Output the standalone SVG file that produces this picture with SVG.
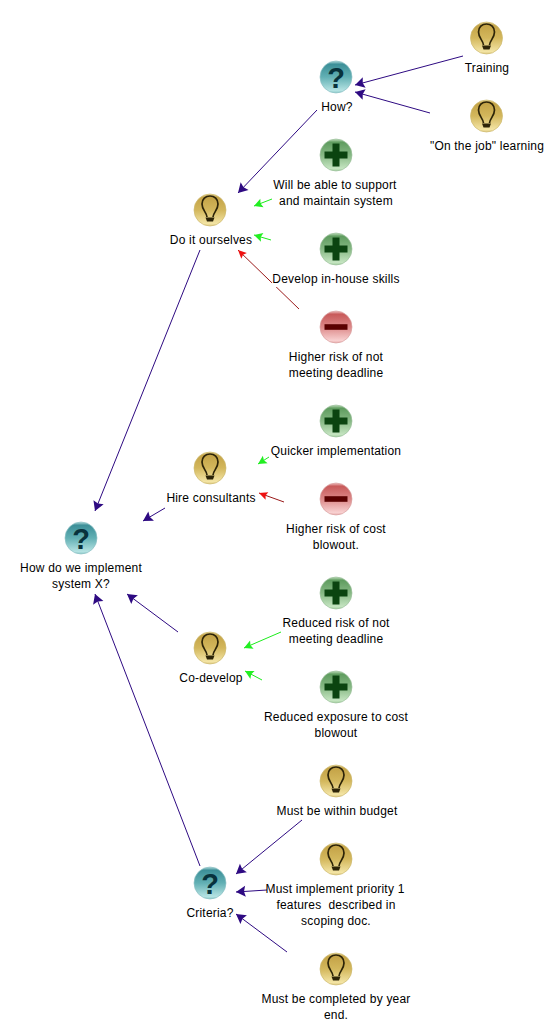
<svg xmlns="http://www.w3.org/2000/svg" width="546" height="1025" viewBox="0 0 546 1025">
<style>
text{font-family:"Liberation Sans",Arial,sans-serif;font-size:12px;letter-spacing:.2px;fill:#000;text-anchor:middle}
.l{fill:none;stroke-width:1}
.p{stroke:#2e0a82}.pf{fill:#2e0a82}
.g{stroke:#1cec1c}.gf{fill:#22ee22}
.r{stroke:#9a1a1a}.rf{fill:#ee1111}
.bg{fill:#fff}
</style>
<defs>
<linearGradient id="gb" x1="0" y1="0" x2="0" y2="1"><stop offset="0" stop-color="#eadca0"/><stop offset=".1" stop-color="#c4a347"/><stop offset=".5" stop-color="#d3b75c"/><stop offset=".92" stop-color="#f3e4a4"/><stop offset="1" stop-color="#e0cc84"/></linearGradient>
<linearGradient id="gq" x1="0" y1="0" x2="0" y2="1"><stop offset="0" stop-color="#b4dcdc"/><stop offset=".1" stop-color="#3c8f98"/><stop offset=".5" stop-color="#62b0b4"/><stop offset=".92" stop-color="#b4e2e2"/><stop offset="1" stop-color="#90cccc"/></linearGradient>
<linearGradient id="gp" x1="0" y1="0" x2="0" y2="1"><stop offset="0" stop-color="#c4e0c0"/><stop offset=".1" stop-color="#5f9c5f"/><stop offset=".5" stop-color="#86b884"/><stop offset=".92" stop-color="#c4e4c0"/><stop offset="1" stop-color="#a4d0a0"/></linearGradient>
<linearGradient id="gm" x1="0" y1="0" x2="0" y2="1"><stop offset="0" stop-color="#f0c4c4"/><stop offset=".1" stop-color="#c85a5a"/><stop offset=".5" stop-color="#dc8888"/><stop offset=".92" stop-color="#f8d0d0"/><stop offset="1" stop-color="#eab0b0"/></linearGradient>
<g id="bulb"><circle r="16" fill="url(#gb)" stroke="#cdb96f" stroke-width=".7"/><path d="M-3 7 C-3.500 2 -8 0 -8 -6 C-8 -11 -4.500 -14 0 -14 C4.500 -14 8 -11 8 -6 C8 0 3.500 2 3 7" fill="none" stroke="#2d2408" stroke-width="1.700"/><path d="M-4.500 7.500H4.500L3 11.500H-3Z" fill="#2d2408"/></g>
<g id="ques"><circle r="16" fill="url(#gq)" stroke="#8cc0c4" stroke-width=".7"/><text y="10.500" style="font-family:'Liberation Sans',sans-serif;font-size:29px;letter-spacing:0;font-weight:bold;fill:#08323c">?</text></g>
<g id="plus"><circle r="16" fill="url(#gp)" stroke="#9cc09c" stroke-width=".7"/><path d="M-3.500 -11.500H3.500V-3.500H11.500V3.500H3.500V11.500H-3.500V3.500H-11.500V-3.500H-3.500Z" fill="#0b4410"/></g>
<g id="minus"><circle r="16" fill="url(#gm)" stroke="#d8a0a0" stroke-width=".7"/><rect x="-11.500" y="-2.800" width="23" height="5.600" fill="#5a0000"/></g>
<g id="hp"><path d="M0 0L9.500 -5.500L8 0L9.500 5.500Z" class="pf"/></g>
<g id="hg"><path d="M0 0L8.500 -4.500L7 0L8.500 4.500Z" class="gf"/></g>
<g id="hr"><path d="M0 0L8.500 -4L7 0L8.500 4Z" class="rf"/></g>
</defs>
<g id="connectors">
<path class="l p" d="M463 56L355 85M430 113L355 92M317 110L238 193M200 250L95 511M165 508L143 521M178 632L127 594M200 866L95 594M302 820L236 874M267 890L236 892M287 952L236 914"/>
<path class="l g" d="M272 199L254 206M271 240L254 235M269 457L258 464M281 632L244 648M262 680L245 671"/>
<path class="l r" d="M299 309L238 250M284 502L259 493"/>
<use href="#hp" transform="translate(355 85) rotate(-15)"/>
<use href="#hp" transform="translate(355 92) rotate(15.600)"/>
<use href="#hp" transform="translate(238 193) rotate(-46)"/>
<use href="#hp" transform="translate(95 511) rotate(-68)"/>
<use href="#hp" transform="translate(143 521) rotate(-31)"/>
<use href="#hp" transform="translate(127 594) rotate(37)"/>
<use href="#hp" transform="translate(95 594) rotate(70)"/>
<use href="#hp" transform="translate(236 874) rotate(-39)"/>
<use href="#hp" transform="translate(236 892) rotate(-4)"/>
<use href="#hp" transform="translate(236 914) rotate(36)"/>
<use href="#hg" transform="translate(254 206) rotate(-21)"/>
<use href="#hg" transform="translate(254 235) rotate(16)"/>
<use href="#hg" transform="translate(258 464) rotate(-32)"/>
<use href="#hg" transform="translate(244 648) rotate(-23)"/>
<use href="#hg" transform="translate(245 671) rotate(28)"/>
<use href="#hr" transform="translate(238 250) rotate(44)"/>
<use href="#hr" transform="translate(259 493) rotate(20)"/>
</g>
<g id="n-training"><use href="#bulb" x="486.500" y="38"/><text x="487" y="72">Training</text></g>
<g id="n-how"><use href="#ques" x="336" y="77"/><text x="337" y="111">How?</text></g>
<g id="n-job"><use href="#bulb" x="486.500" y="116"/><text x="487" y="150">"On the job" learning</text></g>
<g id="n-support"><use href="#plus" x="336" y="155"/><text x="335" y="189">Will be able to support</text><text x="336" y="205">and maintain system</text></g>
<g id="n-ourselves"><use href="#bulb" x="210" y="210"/><text x="211" y="244">Do it ourselves</text></g>
<g id="n-skills"><use href="#plus" x="336" y="249"/><rect class="bg" x="272" y="272" width="130" height="15"/><text x="336" y="283">Develop in-house skills</text></g>
<g id="n-risk"><use href="#minus" x="336" y="327"/><text x="336" y="361">Higher risk of not</text><text x="336" y="377">meeting deadline</text></g>
<g id="n-quicker"><use href="#plus" x="336" y="421"/><text x="336" y="455">Quicker implementation</text></g>
<g id="n-hire"><use href="#bulb" x="210" y="468"/><text x="211" y="502">Hire consultants</text></g>
<g id="n-blowout"><use href="#minus" x="336" y="499"/><text x="336" y="533">Higher risk of cost</text><text x="336" y="549">blowout.</text></g>
<g id="n-root"><use href="#ques" x="81" y="538"/><text x="81" y="572">How do we implement</text><text x="81" y="588">system X?</text></g>
<g id="n-reduced"><use href="#plus" x="336" y="593"/><text x="336" y="627">Reduced risk of not</text><text x="336" y="643">meeting deadline</text></g>
<g id="n-co"><use href="#bulb" x="210" y="648"/><text x="211" y="682">Co-develop</text></g>
<g id="n-exposure"><use href="#plus" x="336" y="687"/><text x="336" y="721">Reduced exposure to cost</text><text x="336" y="737">blowout</text></g>
<g id="n-budget"><use href="#bulb" x="336" y="781"/><text x="337" y="815">Must be within budget</text></g>
<g id="n-priority"><use href="#bulb" x="336" y="859"/><text x="335" y="893">Must implement priority 1</text><text x="336" y="909" xml:space="preserve">features  described in</text><text x="336" y="925">scoping doc.</text></g>
<g id="n-criteria"><use href="#ques" x="210" y="883"/><text x="210" y="917">Criteria?</text></g>
<g id="n-year"><use href="#bulb" x="336" y="969"/><text x="336" y="1003">Must be completed by year</text><text x="336" y="1019">end.</text></g>
</svg>
